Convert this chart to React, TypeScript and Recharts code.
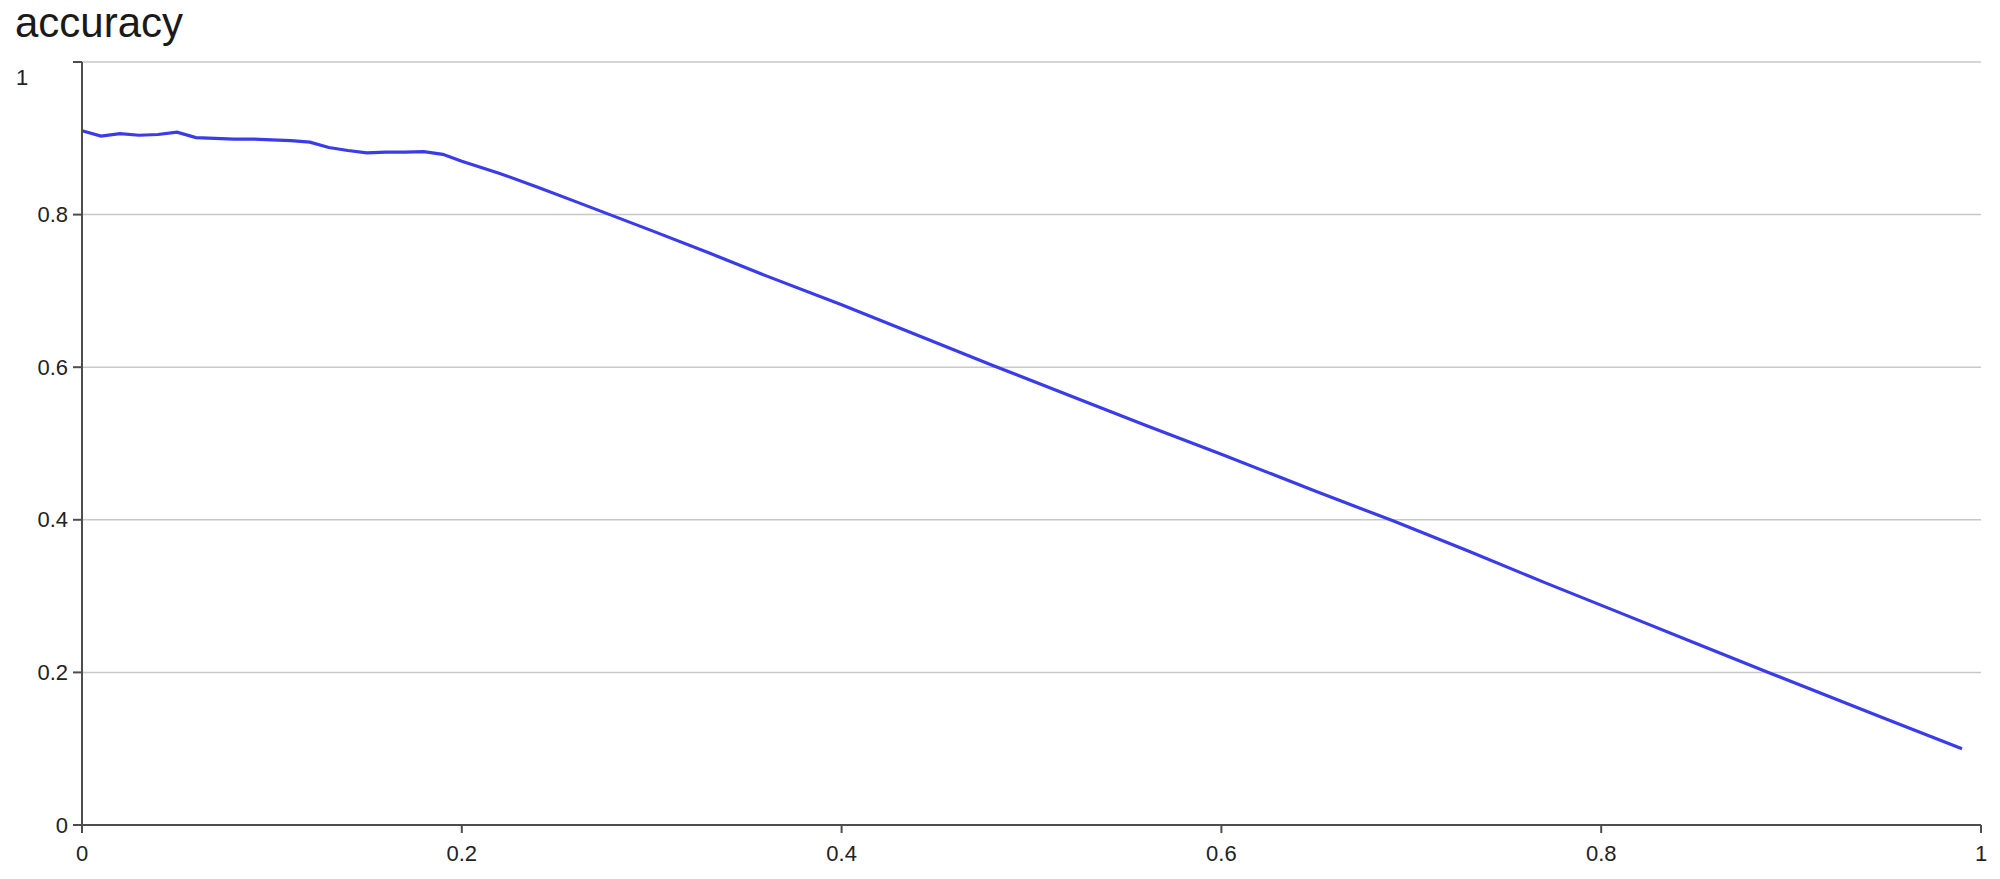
/**
 * Accuracy curve: a single blue line falling from ~0.9 to 0.1 across [0, 1].
 */
import { CartesianGrid, Line, LineChart, XAxis, YAxis } from "recharts";

// x positions
const xValues = [
  0, 0.01, 0.02, 0.03, 0.04, 0.05, 0.06, 0.07, 0.08, 0.09, 0.1, 0.11, 0.12,
  0.13, 0.14, 0.15, 0.16, 0.17, 0.18, 0.19, 0.2, 0.22, 0.24, 0.26, 0.28, 0.3,
  0.33, 0.36, 0.4, 0.44, 0.48, 0.52, 0.56, 0.6, 0.65, 0.69, 0.73, 0.77, 0.81,
  0.85, 0.89, 0.95, 0.99,
];

// accuracy at each x
const accuracyValues = [
  0.91, 0.903, 0.906, 0.904, 0.905, 0.908, 0.901, 0.9, 0.899, 0.899, 0.898,
  0.897, 0.895, 0.888, 0.884, 0.881, 0.882, 0.882, 0.8825, 0.879, 0.87, 0.854,
  0.836, 0.817, 0.798, 0.779, 0.75, 0.72, 0.682, 0.642, 0.602, 0.563, 0.524,
  0.486, 0.437, 0.399, 0.359, 0.318, 0.278, 0.238, 0.198, 0.139, 0.1,
];

const xTicks = [0, 0.2, 0.4, 0.6, 0.8, 1];
const yTicks = [0, 0.2, 0.4, 0.6, 0.8, 1];

const FONT = '"Liberation Sans", Arial, Helvetica, sans-serif';
const AXIS_COLOR = "#4d4d4d";
const GRID_COLOR = "#c8c8c8";
const LINE_COLOR = "#3a3ce8";

const data = xValues.map((x, i) => ({ x, accuracy: accuracyValues[i] }));

// keeps labels like "0.2" instead of "0.2000000001"
const fmt = (v: number) => String(Math.round(v * 10) / 10);

function YTick({ x, y, payload }: any) {
  const v = payload.value as number;
  // the "1" label sits further left and lower in the reference
  if (v === 1) {
    return (
      <text x={16} y={y + 15} fontSize={22} fontFamily={FONT} fill="#222"
        textAnchor="start" dominantBaseline="central">
        {fmt(v)}
      </text>
    );
  }
  return (
    <text x={x} y={y} fontSize={22} fontFamily={FONT} fill="#222"
      textAnchor="end" dominantBaseline="central">
      {fmt(v)}
    </text>
  );
}

function XTick({ x, y, payload }: any) {
  return (
    <text x={x} y={y} fontSize={22} fontFamily={FONT} fill="#222"
      textAnchor="middle" dominantBaseline="central">
      {fmt(payload.value)}
    </text>
  );
}

export default function App() {
  return (
    <div
      style={{
        position: "absolute",
        left: 0,
        top: 0,
        width: 2000,
        height: 879,
        background: "#fff",
        overflow: "hidden",
      }}
    >
      <div
        style={{
          position: "absolute",
          left: 15,
          top: 2,
          fontFamily: FONT,
          fontSize: 42,
          lineHeight: "42px",
          color: "#1a1a1a",
        }}
      >
        accuracy
      </div>
      <LineChart
        width={2000}
        height={879}
        data={data}
        margin={{ top: 62, right: 19, left: 0, bottom: 0 }}
      >
        <CartesianGrid vertical={false} stroke={GRID_COLOR} strokeWidth={1.5} />
        <XAxis
          dataKey="x"
          type="number"
          domain={[0, 1]}
          ticks={xTicks}
          height={54}
          tickSize={8}
          tickMargin={20}
          tick={<XTick />}
          axisLine={{ stroke: AXIS_COLOR, strokeWidth: 2 }}
          tickLine={{ stroke: AXIS_COLOR, strokeWidth: 2 }}
        />
        <YAxis
          type="number"
          domain={[0, 1]}
          ticks={yTicks}
          width={82}
          tickSize={9}
          tickMargin={5}
          tick={<YTick />}
          axisLine={{ stroke: AXIS_COLOR, strokeWidth: 2 }}
          tickLine={{ stroke: AXIS_COLOR, strokeWidth: 2 }}
        />
        <Line
          type="linear"
          dataKey="accuracy"
          stroke={LINE_COLOR}
          strokeWidth={3.2}
          dot={false}
          isAnimationActive={false}
        />
      </LineChart>
    </div>
  );
}
